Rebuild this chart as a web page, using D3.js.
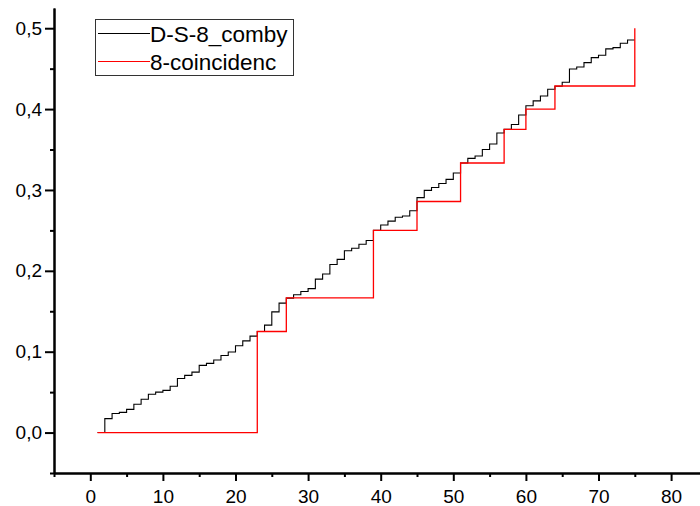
<!DOCTYPE html>
<html>
<head>
<meta charset="utf-8">
<script src="https://cdn.jsdelivr.net/npm/d3@7"></script>
<style>
  body { margin: 0; background: #fff; }
  svg { display: block; font-family: "Liberation Sans", Arial, sans-serif; }
</style>
</head>
<body>
<svg id="chart" width="700" height="506"></svg>
<script>
// Black series: cumulative step values at x = 1 .. 75
const combyX = d3.range(1, 76);
const combyY = [
  0, 0.0173, 0.0235, 0.025, 0.0287, 0.035, 0.0412, 0.0474, 0.05, 0.0522,
  0.0573, 0.0668, 0.0707, 0.0748, 0.0831, 0.0856, 0.0897, 0.0953, 0.0996, 0.1074,
  0.1134, 0.1192, 0.125, 0.1328, 0.1493, 0.16, 0.1662, 0.1704, 0.1745, 0.178,
  0.1897, 0.196, 0.2079, 0.2141, 0.2248, 0.228, 0.2328, 0.2375, 0.25, 0.2566,
  0.2615, 0.2662, 0.2678, 0.2743, 0.2905, 0.2995, 0.303, 0.308, 0.3131, 0.321,
  0.3333, 0.339, 0.342, 0.35, 0.3568, 0.3704, 0.375, 0.381, 0.3927, 0.4042,
  0.4102, 0.4162, 0.4245, 0.4282, 0.4332, 0.4496, 0.4521, 0.4574, 0.4636, 0.4666,
  0.4744, 0.476, 0.4814, 0.4855, 0.4855
];

// Red series: step positions and levels
const coincX = [1, 23, 27, 39, 45, 51, 57, 60, 64, 75];
const coincY = [0, 0.125, 1 / 6, 0.25, 2 / 7, 1 / 3, 0.375, 0.4, 3 / 7, 0.5];

const seriesNames = ["D-S-8_comby", "8-coincidenc"];
const seriesColors = ["#000000", "#ff0000"];

const xMajor = [0, 10, 20, 30, 40, 50, 60, 70, 80];
const xMinor = [-5, 5, 15, 25, 35, 45, 55, 65, 75, 85];
const yMajor = [0, 0.1, 0.2, 0.3, 0.4, 0.5];
const yMinor = [-0.05, 0.05, 0.15, 0.25, 0.35, 0.45];

const svg = d3.select("#chart");

const plotLeft = 54, plotBottom = 473, plotTop = 8;
const x = d3.scaleLinear().domain([-5, 85]).range([plotLeft, plotLeft + 90 * 7.26]);
const y = d3.scaleLinear().domain([-0.05, 0.525]).range([plotBottom, plotTop]);

const fmt = (d) => d3.format(".1f")(d).replace(".", ",");

// Lines
const line = d3.line()
  .x((d) => x(d[0]))
  .y((d) => y(d[1]))
  .curve(d3.curveStepAfter);

svg.append("path")
  .datum(combyX.map((v, i) => [v, combyY[i]]))
  .attr("fill", "none")
  .attr("stroke", seriesColors[0])
  .attr("stroke-width", 1.1)
  .attr("d", line);

svg.append("path")
  .datum(coincX.map((v, i) => [v, coincY[i]]))
  .attr("fill", "none")
  .attr("stroke", seriesColors[1])
  .attr("stroke-width", 1.3)
  .attr("d", line);

// Axes
const gx = svg.append("g").attr("transform", `translate(0,${plotBottom})`);
gx.call(d3.axisBottom(x).tickValues(xMajor).tickSize(8).tickSizeOuter(0).tickPadding(9));
gx.append("g").call(d3.axisBottom(x).tickValues(xMinor).tickSize(4).tickSizeOuter(0).tickFormat(""));

const gy = svg.append("g").attr("transform", `translate(${plotLeft},0)`);
gy.call(d3.axisLeft(y).tickValues(yMajor).tickSize(9).tickSizeOuter(0).tickPadding(3).tickFormat(fmt));
gy.append("g").call(d3.axisLeft(y).tickValues(yMinor).tickSize(4).tickSizeOuter(0).tickFormat(""));

svg.selectAll(".domain").attr("stroke", "#000").attr("stroke-width", 2);
svg.selectAll(".tick line").attr("stroke", "#000").attr("stroke-width", 2);
svg.selectAll(".tick text")
  .attr("fill", "#000")
  .style("font-size", "19px")
  .style("font-family", "'Liberation Sans', Arial, sans-serif");

// Legend
const legend = svg.append("g");
legend.append("rect")
  .attr("x", 95.5).attr("y", 19.5)
  .attr("width", 198).attr("height", 56)
  .attr("fill", "#fff")
  .attr("stroke", "#333")
  .attr("stroke-width", 1);

seriesNames.forEach((name, i) => {
  const ly = 33.5 + i * 28;
  legend.append("line")
    .attr("x1", 98).attr("x2", 150)
    .attr("y1", ly).attr("y2", ly)
    .attr("stroke", seriesColors[i])
    .attr("stroke-width", 1);
  legend.append("text")
    .attr("x", 150)
    .attr("y", ly + 8)
    .attr("fill", "#000")
    .style("font-size", "22.5px")
    .text(name);
});
</script>
</body>
</html>
